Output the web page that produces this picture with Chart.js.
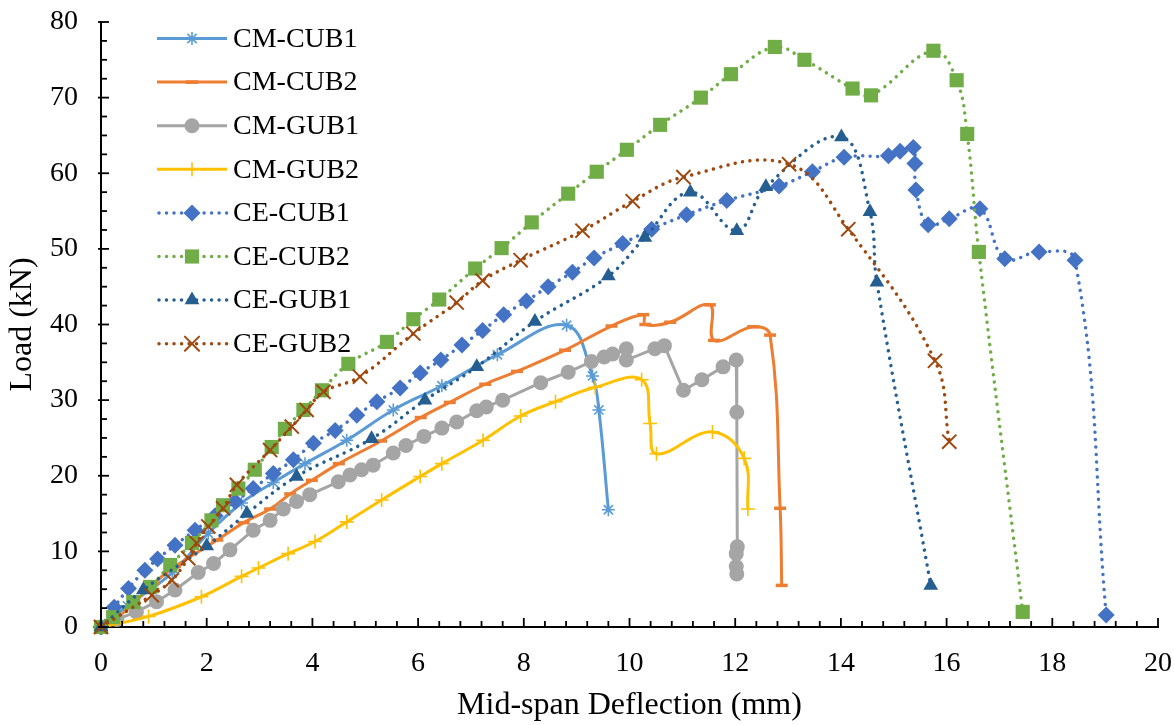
<!DOCTYPE html>
<html><head><meta charset="utf-8">
<script src="https://cdn.jsdelivr.net/npm/chart.js@4.4.1/dist/chart.umd.min.js"></script>
<style>html,body{margin:0;padding:0;background:#fff}#wrap{width:1174px;height:725px}</style>
</head><body><div id="wrap"><canvas id="c" width="1174" height="725"></canvas></div>
<script>
// ---- data ----
const seriesNames = ["CM-CUB1","CM-CUB2","CM-GUB1","CM-GUB2","CE-CUB1","CE-CUB2","CE-GUB1","CE-GUB2"];

const cmCub1X = [0, 0.5, 1.35, 2.03, 2.66, 3.26, 3.86, 4.65, 5.53, 6.45, 7.50, 8.81, 9.30, 9.42, 9.60];
const cmCub1Y = [0, 2.8, 7.2, 12.4, 16.4, 19.1, 21.6, 24.7, 28.7, 31.9, 36.0, 39.9, 33.2, 28.7, 15.5];

const cmCub2X = [0, 0.3, 0.6, 1.0, 1.4, 2.2, 2.7, 3.2, 3.58, 3.99, 4.5, 5.3, 6.05, 6.6, 7.27, 7.87, 8.78, 9.66, 10.26, 10.30, 10.77, 11.52, 11.60, 12.34, 12.66, 12.85, 12.88];
const cmCub2Y = [0, 1.2, 3.0, 5.8, 8.0, 11.5, 13.8, 15.6, 17.6, 19.4, 21.6, 24.6, 27.7, 29.7, 32.1, 33.8, 36.6, 39.8, 41.3, 40.0, 40.3, 42.6, 37.9, 39.7, 38.6, 15.7, 5.5];

const cmGub1X = [0, 0.3, 0.67, 1.05, 1.40, 1.84, 2.13, 2.44, 2.88, 3.2, 3.45, 3.70, 3.95, 4.49, 4.71, 4.93, 5.15, 5.53, 5.77, 6.11, 6.45, 6.73, 7.11, 7.29, 7.60, 8.32, 8.84, 9.28, 9.52, 9.68, 9.94, 9.94, 10.48, 10.66, 11.02, 11.37, 11.77, 12.02, 12.03, 12.04, 12.02, 12.02, 12.03];
const cmGub1Y = [0, 1.0, 2.0, 3.35, 4.9, 7.2, 8.4, 10.2, 12.8, 14.1, 15.6, 16.6, 17.5, 19.2, 20.1, 20.8, 21.4, 23.0, 24.0, 25.2, 26.3, 27.1, 28.6, 29.1, 30.0, 32.3, 33.7, 35.1, 35.7, 36.1, 36.8, 35.3, 36.8, 37.2, 31.3, 32.7, 34.4, 35.3, 28.4, 10.6, 9.7, 8.0, 7.0];

const cmGub2X = [0, 0.9, 1.9, 2.66, 2.98, 3.54, 4.05, 4.65, 5.31, 6.04, 6.45, 7.23, 7.94, 8.6, 9.35, 10.23, 10.39, 10.51, 11.57, 12.17, 12.24];
const cmGub2Y = [0, 1.4, 4.0, 6.7, 7.8, 9.7, 11.3, 13.9, 16.8, 19.9, 21.6, 24.7, 27.9, 29.8, 31.7, 32.7, 26.9, 22.9, 25.8, 22.3, 15.6];

const ceCub1X = [0, 0.25, 0.52, 0.83, 1.07, 1.40, 1.78, 2.16, 2.54, 2.88, 3.26, 3.64, 4.02, 4.43, 4.84, 5.22, 5.66, 6.04, 6.43, 6.83, 7.22, 7.62, 8.05, 8.46, 8.92, 9.33, 9.87, 10.42, 11.08, 11.84, 12.83, 13.46, 14.06, 14.90, 15.12, 15.37, 15.40, 15.42, 15.65, 16.05, 16.63, 17.10, 17.75, 18.43, 19.02];
const ceCub1Y = [0, 2.6, 5.1, 7.5, 9.0, 10.8, 12.8, 14.7, 16.6, 18.3, 20.3, 22.1, 24.3, 26.0, 28.0, 29.8, 31.6, 33.6, 35.3, 37.3, 39.2, 41.3, 43.1, 45.0, 46.9, 48.8, 50.7, 52.6, 54.5, 56.4, 58.3, 60.2, 62.1, 62.3, 62.9, 63.4, 61.3, 57.8, 53.2, 54.0, 55.3, 48.7, 49.6, 48.5, 1.6];

const ceCub2X = [0, 0.23, 0.61, 0.93, 1.31, 1.72, 2.09, 2.31, 2.60, 2.91, 3.23, 3.48, 3.83, 4.18, 4.68, 5.41, 5.91, 6.40, 7.08, 7.58, 8.15, 8.84, 9.38, 9.95, 10.58, 11.35, 11.92, 12.75, 13.31, 14.22, 14.57, 15.75, 16.19, 16.39, 16.61, 17.44];
const ceCub2Y = [0, 1.3, 3.3, 5.3, 8.2, 11.1, 14.1, 16.1, 18.3, 20.8, 23.8, 26.2, 28.7, 31.3, 34.8, 37.7, 40.7, 43.3, 47.4, 50.1, 53.5, 57.3, 60.2, 63.1, 66.4, 70.0, 73.1, 76.7, 75.0, 71.2, 70.3, 76.2, 72.3, 65.2, 49.6, 2.0];

const ceGub1X = [0, 0.8, 2.0, 2.76, 3.70, 5.12, 6.13, 7.11, 8.21, 9.60, 10.29, 11.15, 12.03, 12.58, 14.01, 14.55, 14.68, 15.70];
const ceGub1Y = [0, 4.9, 10.7, 15.0, 19.9, 24.9, 30.0, 34.4, 40.4, 46.4, 51.5, 57.5, 52.4, 58.2, 64.8, 54.9, 45.6, 5.5];

const ceGub2X = [0, 0.96, 1.34, 1.65, 1.81, 2.03, 2.31, 2.57, 3.20, 3.61, 3.89, 4.21, 4.90, 5.91, 6.73, 7.22, 7.94, 9.11, 10.06, 11.02, 13.02, 14.14, 15.78, 16.05];
const ceGub2Y = [0, 4.2, 6.2, 9.1, 11.1, 13.3, 15.7, 18.8, 23.4, 26.5, 28.7, 31.1, 33.1, 38.8, 42.9, 45.8, 48.5, 52.4, 56.3, 59.5, 61.2, 52.6, 35.2, 24.5];

const xTickValues = [0, 2, 4, 6, 8, 10, 12, 14, 16, 18, 20];
const yTickValues = [0, 10, 20, 30, 40, 50, 60, 70, 80];

// ---- styles ----
const FONT = '"Liberation Serif", "Times New Roman", serif';
const styles = [
  {color:'#5B9BD5', pointStyle:'star',     radius:6.5, bw:1.6, dotted:false, tension:0.4},
  {color:'#ED7D31', pointStyle:'line',     radius:6,   bw:3.5, dotted:false, tension:0.4},
  {color:'#A5A5A5', pointStyle:'circle',   radius:7.5, bw:0,   dotted:false, tension:0},
  {color:'#FFC000', pointStyle:'cross',    radius:7,   bw:1.6, dotted:false, tension:0.4},
  {color:'#4472C4', pointStyle:'rectRot',  radius:8.5, bw:0,   dotted:true,  tension:0.4},
  {color:'#70AD47', pointStyle:'rect',     radius:10,  bw:0,   dotted:true,  tension:0.4},
  {color:'#255E91', pointStyle:'triangle', radius:8.5, bw:0,   dotted:true,  tension:0.4},
  {color:'#9E480E', pointStyle:'crossRot', radius:10,  bw:2,   dotted:true,  tension:0.4}
];
const xs = [cmCub1X, cmCub2X, cmGub1X, cmGub2X, ceCub1X, ceCub2X, ceGub1X, ceGub2X];
const ys = [cmCub1Y, cmCub2Y, cmGub1Y, cmGub2Y, ceCub1Y, ceCub2Y, ceGub1Y, ceGub2Y];

const datasets = seriesNames.map((name, i) => {
  const s = styles[i];
  return {
    label: name,
    data: xs[i].map((x, k) => ({x: x, y: ys[i][k]})),
    showLine: true,
    borderColor: s.color,
    backgroundColor: s.color,
    borderWidth: s.dotted ? 3.5 : 3,
    borderDash: s.dotted ? [0.01, 7.5] : [],
    borderCapStyle: s.dotted ? 'round' : 'butt',
    tension: s.tension,
    pointStyle: s.pointStyle,
    pointRadius: s.radius,
    pointHoverRadius: s.radius,
    pointBorderWidth: s.bw,
    pointBorderColor: s.color,
    pointBackgroundColor: s.color,
    clip: false,
    order: 10 - i
  };
});

const axisTicks = {
  id: 'axisTicks',
  afterDatasetsDraw(chart) {
    const {ctx, scales: {x, y}} = chart;
    ctx.save();
    ctx.strokeStyle = '#000';
    ctx.lineWidth = 1.8;
    const yb = y.getPixelForValue(0);
    const xl = x.getPixelForValue(0);
    for (let i = 0; i <= 50; i++) {
      const px = x.getPixelForValue(i * 0.4);
      const major = i % 5 === 0;
      ctx.beginPath(); ctx.moveTo(px, yb); ctx.lineTo(px, yb - (major ? 9 : 6)); ctx.stroke();
    }
    for (let i = 0; i <= 32; i++) {
      const py = y.getPixelForValue(i * 2.5);
      const major = i % 4 === 0;
      ctx.beginPath(); ctx.moveTo(xl - (major ? 3 : 0), py); ctx.lineTo(xl + (major ? 8 : 6), py); ctx.stroke();
    }
    ctx.restore();
  }
};

const customLegend = {
  id: 'customLegend',
  afterDraw(chart) {
    const ctx = chart.ctx;
    ctx.save();
    chart.data.datasets.forEach((ds, i) => {
      const s = styles[i];
      const yy = 38.5 + i * 43.6;
      ctx.strokeStyle = s.color;
      ctx.lineWidth = s.dotted ? 3.5 : 3;
      ctx.lineCap = s.dotted ? 'round' : 'butt';
      ctx.setLineDash(s.dotted ? [0.01, 7.5] : []);
      ctx.beginPath(); ctx.moveTo(s.dotted ? 159 : 157, yy); ctx.lineTo(227, yy); ctx.stroke();
      ctx.setLineDash([]);
      ctx.fillStyle = s.color;
      ctx.lineWidth = s.bw;
      Chart.helpers.drawPoint(ctx, {pointStyle: s.pointStyle, radius: s.radius, rotation: 0, borderWidth: s.bw}, 192, yy);
      ctx.fillStyle = '#000';
      ctx.font = '28px ' + FONT;
      ctx.textBaseline = 'middle';
      ctx.textAlign = 'left';
      ctx.fillText(ds.label, 233, yy + 1);
    });
    ctx.restore();
  }
};

new Chart(document.getElementById('c'), {
  type: 'scatter',
  data: {datasets: datasets},
  options: {
    responsive: false,
    animation: false,
    devicePixelRatio: 1,
    layout: {padding: {left: 0, right: 16, top: 22, bottom: 0}},
    plugins: {legend: {display: false}, tooltip: {enabled: false}},
    scales: {
      x: {
        type: 'linear', min: 0, max: 20,
        afterBuildTicks: (sc) => { sc.ticks = xTickValues.map(v => ({value: v})); },
        afterFit: (sc) => { sc.height = 98; sc.paddingLeft = 0; sc.paddingRight = 0; },
        grid: {display: false},
        border: {display: true, color: '#000', width: 2},
        ticks: {color: '#000', font: {family: FONT, size: 28}, padding: 12, maxRotation: 0},
        title: {display: true, text: 'Mid-span Deflection (mm)', color: '#000', font: {family: FONT, size: 32, lineHeight: 1.2}, padding: {top: 0, bottom: 0}}
      },
      y: {
        type: 'linear', min: 0, max: 80,
        afterBuildTicks: (sc) => { sc.ticks = yTickValues.map(v => ({value: v})); },
        afterFit: (sc) => { sc.width = 101; sc.paddingTop = 0; sc.paddingBottom = 0; },
        grid: {display: false},
        border: {display: true, color: '#000', width: 2},
        ticks: {color: '#000', font: {family: FONT, size: 28}, padding: 15},
        title: {display: true, text: 'Load (kN)', color: '#000', font: {family: FONT, size: 32, lineHeight: 1.2}, padding: {top: 3, bottom: 0}}
      }
    }
  },
  plugins: [axisTicks, customLegend]
});
</script>
</body></html>
